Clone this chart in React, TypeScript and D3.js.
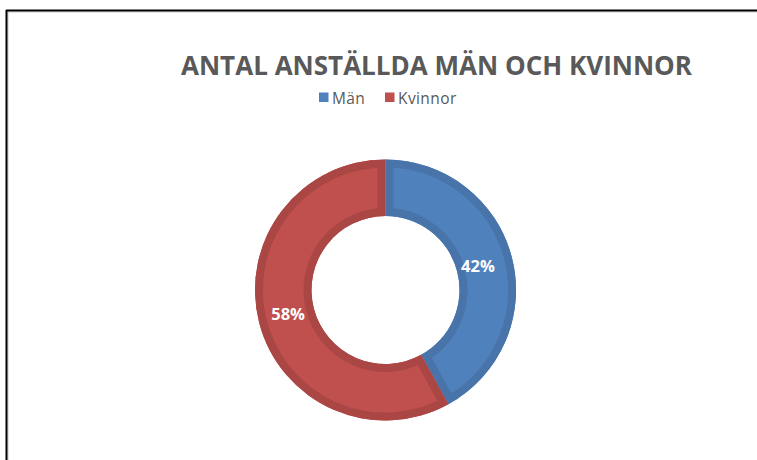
import React from "react";
import * as d3 from "d3";

const categories = ["Män", "Kvinnor"];
const values = [42, 58];
const fills = ["#4F81BD", "#C0504D"];
const borders = ["#4874A9", "#AA4744"];
const title = "ANTAL ANSTÄLLDA MÄN OCH KVINNOR";

const W = 757;
const H = 460;
const cx = 385.5;
const cy = 290;
const outerR = 130.5;
const innerR = 74;

export default function App() {
  const pie = d3.pie<number>().sort(null).value((d) => d);
  const arcs = pie(values);
  const arcGen = d3.arc<d3.PieArcDatum<number>>().innerRadius(innerR).outerRadius(outerR);
  const labelArc = d3.arc<d3.PieArcDatum<number>>().innerRadius(98).outerRadius(98);
  const total = d3.sum(values);

  const legendX = [319, 385];
  const legendTextX = [332, 398];

  return (
    <svg
      width={W}
      height={H}
      style={{ position: "absolute", left: 0, top: 0, background: "#fff" }}
      fontFamily="'Open Sans', sans-serif"
    >
      <rect x={0} y={0} width={W} height={H} fill="#fff" />
      {/* frame */}
      <line x1={8} y1={12} x2={W} y2={12} stroke="#c8c8c8" strokeWidth={1} />
      <line x1={8} y1={12} x2={8} y2={H} stroke="#c8c8c8" strokeWidth={1} />
      <line x1={6} y1={10.5} x2={W} y2={10.5} stroke="#000" strokeWidth={2} />
      <line x1={6.5} y1={10} x2={6.5} y2={H} stroke="#000" strokeWidth={2} />

      <text
        x={436.5}
        y={75}
        textAnchor="middle"
        fontSize={27}
        fontWeight="bold"
        fill="#595959"
        textLength={511}
        lengthAdjust="spacingAndGlyphs"
      >
        {title}
      </text>

      {categories.map((c, i) => (
        <g key={c}>
          <rect x={legendX[i]} y={92.5} width={9.5} height={9.5} fill={fills[i]} />
          <text x={legendTextX[i]} y={103.5} fontSize={15.5} letterSpacing={0.4} fill="#595959">
            {c}
          </text>
        </g>
      ))}

      <g transform={`translate(${cx},${cy})`}>
        <defs>
          {arcs.map((a, i) => (
            <clipPath id={`clip${i}`} key={i}>
              <path d={arcGen(a) || ""} />
            </clipPath>
          ))}
        </defs>

        {arcs.map((a, i) => (
          <g key={i}>
            <path d={arcGen(a) || ""} fill={fills[i]} />
            <path
              d={arcGen(a) || ""}
              fill="none"
              stroke={borders[i]}
              strokeWidth={16}
              clipPath={`url(#clip${i})`}
            />
          </g>
        ))}

        {arcs.map((a, i) => {
          const [lx, ly] = labelArc.centroid(a);
          return (
            <text
              key={i}
              x={lx - 2.5}
              y={ly + 6}
              textAnchor="middle"
              fontSize={16.5}
              fontWeight="bold"
              fill="#fff"
            >
              {`${Math.round((a.data / total) * 100)}%`}
            </text>
          );
        })}
      </g>
    </svg>
  );
}
